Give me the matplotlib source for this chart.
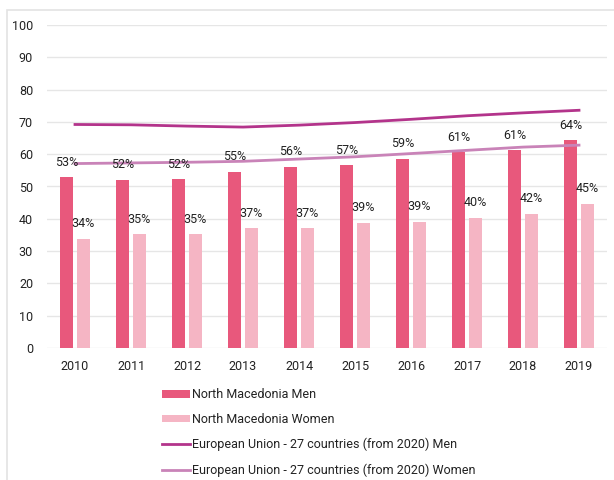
import matplotlib.pyplot as plt
import numpy as np
from matplotlib.patches import Rectangle

years = ['2010', '2011', '2012', '2013', '2014', '2015', '2016', '2017', '2018', '2019']
mk_men = [52.8, 52.1, 52.3, 54.6, 56.1, 56.6, 58.6, 60.6, 61.3, 64.4]
mk_women = [33.8, 35.3, 35.3, 37.2, 37.2, 38.8, 39.1, 40.3, 41.6, 44.7]
eu_men = [69.2, 69.1, 68.7, 68.4, 69.0, 69.8, 70.8, 71.9, 72.8, 73.6]
eu_women = [57.1, 57.3, 57.5, 57.8, 58.5, 59.2, 60.2, 61.2, 62.2, 62.8]

plt.rcParams['font.family'] = ['Roboto', 'DejaVu Sans']

fig = plt.figure(figsize=(6.14, 4.80), dpi=100)
ax = fig.add_axes([47 / 614, 1 - 348 / 480, 560 / 614, 323 / 480])

# light frame around the chart
fig.patches.append(Rectangle((7 / 614, -0.1), 1.2, 1 - 10 / 480 + 0.1,
                             transform=fig.transFigure, fill=False,
                             edgecolor='#e3e3e3', linewidth=1.2))

x = np.arange(len(years))
w = 0.235
off = 0.145
c_men, c_women = '#e8587c', '#f5b5c4'
c_eu_men, c_eu_women = '#b3348b', '#c983b8'

b1 = ax.bar(x - off, mk_men, w, color=c_men, label='North Macedonia Men', zorder=2)
b2 = ax.bar(x + off, mk_women, w, color=c_women, label='North Macedonia Women', zorder=2)
l1, = ax.plot(x, eu_men, color=c_eu_men, lw=2, label='European Union - 27 countries (from 2020) Men', zorder=3)
l2, = ax.plot(x, eu_women, color=c_eu_women, lw=2, label='European Union - 27 countries (from 2020) Women', zorder=3)

for xi, v in zip(x, mk_men):
    ax.annotate(f'{round(v)}%', (xi - off, v), xytext=(0, 6), textcoords='offset points',
                ha='center', va='bottom', fontsize=9, color='#222222', zorder=4)
for xi, v in zip(x, mk_women):
    ax.annotate(f'{round(v)}%', (xi + off, v), xytext=(0, 6), textcoords='offset points',
                ha='center', va='bottom', fontsize=9, color='#222222', zorder=4)

ax.set_xlim(-0.5, len(years) - 0.5)
ax.set_ylim(0, 100)
ax.set_yticks(range(0, 101, 10))
ax.set_xticks(x)
ax.set_xticklabels(years)
ax.tick_params(length=0, labelsize=9, colors='#222222')
ax.tick_params(axis='y', pad=10)
ax.tick_params(axis='x', pad=9)
ax.grid(axis='y', color='#e6e6e6', linewidth=1, zorder=0)
ax.set_axisbelow(True)
for s in ax.spines.values():
    s.set_visible(False)

fig.legend(handles=[b1, b2, l1, l2], loc='upper left',
           bbox_to_anchor=(156 / 614, 1 - 382 / 480), frameon=False,
           fontsize=9, handlelength=2.2, handleheight=0.55, handletextpad=0.15,
           labelspacing=0.95, borderpad=0, labelcolor='#222222')

fig.savefig('out.png', dpi=100)
